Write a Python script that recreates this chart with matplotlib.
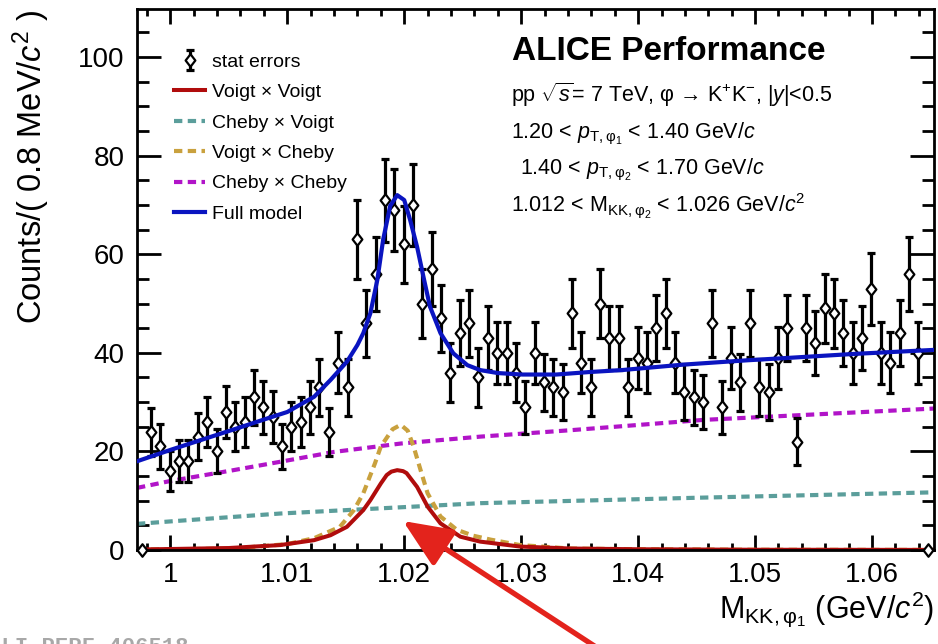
import numpy as np
import matplotlib
matplotlib.use("Agg")
import matplotlib.pyplot as plt
from matplotlib.lines import Line2D
from matplotlib.path import Path
from matplotlib.ticker import FixedLocator, MultipleLocator

# ---------------- data ----------------
bin_start = 0.99755          # centre of first bin (GeV/c^2)
bin_width = 0.0008           # 0.8 MeV/c^2
counts = [0,
          24, 21, 16, 18, 18, 23, 26, 20, 28, 25,
          26, 31, 29, 27, 21, 25, 26, 29, 33, 24,
          38, 33, 63, 46, 56, 71, 69, 62, 70, 50,
          57, 47, 36, 44, 46, 35, 43, 40, 40, 36,
          29, 40, 34, 33, 32, 48, 38, 33, 50, 43,
          43, 33, 39, 38, 45, 48, 38, 32, 31, 30,
          46, 29, 39, 34, 46, 33, 32, 39, 45, 22,
          45, 42, 49, 48, 44, 40, 43, 53, 40, 38,
          44, 56, 40, 0]

full_x = [0.99715, 1.0000, 1.0026, 1.0056, 1.0083, 1.0100, 1.0123, 1.0137, 1.0151,
          1.0160, 1.0165, 1.0171, 1.0177, 1.0182, 1.0188, 1.0194, 1.0200, 1.0205,
          1.0211, 1.0217, 1.0222, 1.0231, 1.0242, 1.0254, 1.0265, 1.0280, 1.0301,
          1.0330, 1.0358, 1.0386, 1.0438, 1.0494, 1.0523, 1.0586, 1.0653]
full_y = [18.0, 20.3, 22.3, 24.6, 26.7, 28.0, 31.1, 34.5, 38.2,
          41.6, 44.0, 48.0, 54.8, 63.0, 69.8, 72.0, 71.0, 67.0,
          61.5, 54.8, 49.4, 44.0, 39.9, 37.5, 36.5, 35.9, 35.6,
          35.6, 36.1, 36.5, 37.6, 38.5, 38.9, 39.8, 40.6]

vv_x = [0.99715, 1.0000, 1.0050, 1.0094, 1.0123, 1.0137, 1.0151, 1.0165, 1.0171,
        1.0180, 1.0185, 1.0189, 1.0194, 1.0199, 1.0202, 1.0211, 1.0220, 1.0231,
        1.0248, 1.0265, 1.0299, 1.0342, 1.0400, 1.0500, 1.0653]
vv_y = [0.1, 0.2, 0.4, 1.0, 2.0, 3.0, 4.7, 8.1, 10.1,
        13.5, 15.2, 15.9, 16.2, 16.0, 15.6, 12.8, 8.8, 5.4,
        2.7, 1.7, 0.7, 0.3, 0.15, 0.05, 0.02]

vc_x = [0.99715, 1.0000, 1.0054, 1.0100, 1.0123, 1.0145, 1.0157, 1.0165, 1.0175,
        1.0180, 1.0190, 1.0197, 1.0203, 1.0208, 1.0214, 1.0220, 1.0231, 1.0245,
        1.0259, 1.0274, 1.0299, 1.0342, 1.0400, 1.0500, 1.0653]
vc_y = [0.1, 0.15, 0.3, 1.2, 2.4, 4.7, 8.1, 11.5, 17.6,
        21.0, 24.5, 25.4, 24.2, 21.0, 16.2, 11.5, 6.8, 4.1,
        2.9, 2.1, 1.0, 0.3, 0.15, 0.05, 0.02]

cv_x = [0.99715, 1.0000, 1.0094, 1.0265, 1.0450, 1.0653]
cv_y = [5.3, 5.8, 7.4, 9.5, 10.6, 11.7]

cc_x = [0.99715, 1.0000, 1.0054, 1.0094, 1.0140, 1.0197, 1.0265, 1.0342, 1.0456, 1.0542, 1.0653]
cc_y = [12.6, 14.0, 16.2, 17.9, 19.9, 21.6, 23.0, 24.3, 26.4, 27.4, 28.7]

xticks = [1.00, 1.01, 1.02, 1.03, 1.04, 1.05, 1.06]
xtick_labels = ["1", "1.01", "1.02", "1.03", "1.04", "1.05", "1.06"]
yticks = [0, 20, 40, 60, 80, 100]

# ---------------- style ----------------
plt.rcParams['font.family'] = ['Liberation Sans', 'DejaVu Sans']
plt.rcParams['mathtext.fontset'] = 'custom'
plt.rcParams['mathtext.rm'] = 'Liberation Sans'
plt.rcParams['mathtext.it'] = 'Liberation Sans:italic'
plt.rcParams['mathtext.bf'] = 'Liberation Sans:bold'
plt.rcParams['mathtext.sf'] = 'Liberation Sans'

W, H = 938, 644
fig = plt.figure(figsize=(W / 100, H / 100), dpi=100)
fig.patch.set_facecolor('white')

def fx(px):
    return px / W

def fy(py):
    return 1 - py / H

ax_l, ax_r, ax_t, ax_b = 137, 934, 9.3, 550
ax = fig.add_axes([fx(ax_l), fy(ax_b), fx(ax_r) - fx(ax_l), (ax_b - ax_t) / H])

xc = bin_start + bin_width * np.arange(len(counts))
cnt = np.array(counts, dtype=float)
err = np.sqrt(cnt)

diamond = Path([(0, 1), (0.78, 0), (0, -1), (-0.78, 0), (0, 1)],
               [Path.MOVETO, Path.LINETO, Path.LINETO, Path.LINETO, Path.CLOSEPOLY])

eb = ax.errorbar(xc, cnt, yerr=err, fmt='none', ecolor='black', elinewidth=2.3,
                 capsize=3.0, capthick=2.3, zorder=3, clip_on=False)
ax.plot(xc, cnt, linestyle='none', marker=diamond, markersize=9.0,
        markerfacecolor='white', markeredgecolor='black', markeredgewidth=1.6,
        zorder=4, clip_on=False)

c_red = '#b00c0c'
c_teal = '#5b9e9b'
c_gold = '#c9a13e'
c_mag = '#b114c8'
c_blue = '#0a14c0'
dots = (0, (2.0, 1.3))

ax.plot(cv_x, cv_y, color=c_teal, lw=3.0, linestyle=dots, zorder=2)
ax.plot(cc_x, cc_y, color=c_mag, lw=3.0, linestyle=dots, zorder=2)
ax.plot(vc_x, vc_y, color=c_gold, lw=3.0, linestyle=dots, zorder=2)
ax.plot(vv_x, vv_y, color=c_red, lw=2.9, zorder=2.5, solid_joinstyle='round')
ax.plot(full_x, full_y, color=c_blue, lw=3.0, zorder=5, solid_joinstyle='round')

ax.set_xlim(0.99715, 1.0653)
ax.set_ylim(0, 109.7)

ax.xaxis.set_major_locator(FixedLocator(xticks))
ax.set_xticklabels(xtick_labels)
ax.xaxis.set_minor_locator(MultipleLocator(0.002))
ax.yaxis.set_major_locator(FixedLocator(yticks))
ax.yaxis.set_minor_locator(MultipleLocator(5))

for s in ax.spines.values():
    s.set_linewidth(2.0)
ax.tick_params(axis='both', which='both', direction='in', top=True, right=True,
               width=2.0, labelsize=20)
ax.tick_params(axis='x', which='major', length=11, pad=9)
ax.tick_params(axis='x', which='minor', length=5)
ax.tick_params(axis='y', which='major', length=17.5, pad=9)
ax.tick_params(axis='y', which='minor', length=8.5)

ax.set_ylabel(r'Counts/( 0.8 MeV/$c^{2}$ )', fontsize=23.5, loc='top', labelpad=19)
ax.set_xlabel(r'M$_{\mathrm{KK},\mathrm{φ}_{1}}$ (GeV/$c^{2}$)', fontsize=22, loc='right',
              labelpad=1)

# legend
h_stat = Line2D([], [], linestyle='none', marker=diamond, markersize=9.0,
                markerfacecolor='white', markeredgecolor='black', markeredgewidth=1.6)
handles = [(eb, h_stat),
           Line2D([], [], color=c_red, lw=2.9),
           Line2D([], [], color=c_teal, lw=3.0, linestyle=dots),
           Line2D([], [], color=c_gold, lw=3.0, linestyle=dots),
           Line2D([], [], color=c_mag, lw=3.0, linestyle=dots),
           Line2D([], [], color=c_blue, lw=3.0)]
labels = ['stat errors', 'Voigt × Voigt', 'Cheby × Voigt', 'Voigt × Cheby',
          'Cheby × Cheby', 'Full model']
leg = ax.legend(handles, labels, loc='upper left', bbox_to_anchor=(fx(174), fy(53)),
                bbox_transform=fig.transFigure, frameon=False, fontsize=14,
                handlelength=1.6, handletextpad=0.35, labelspacing=0.66,
                borderpad=0, borderaxespad=0)

# annotation text
fig.text(fx(512), fy(60), 'ALICE Performance', fontsize=24, fontweight='bold',
         ha='left', va='baseline')
fig.text(fx(511), fy(102), r'pp $\sqrt{s}$= 7 TeV, φ → K$^{+}$K$^{-}$, |$y$|<0.5',
         fontsize=15.5, ha='left', va='baseline')
fig.text(fx(511), fy(138), r'1.20 < $p_{\mathrm{T},\mathrm{φ}_{1}}$ < 1.40 GeV/$c$',
         fontsize=15.5, ha='left', va='baseline')
fig.text(fx(520), fy(174), r'1.40 < $p_{\mathrm{T},\mathrm{φ}_{2}}$ < 1.70 GeV/$c$',
         fontsize=15.5, ha='left', va='baseline')
fig.text(fx(511), fy(211), r'1.012 < M$_{\mathrm{KK},\mathrm{φ}_{2}}$ < 1.026 GeV/$c^{2}$',
         fontsize=15.5, ha='left', va='baseline')

# red arrow
ax.annotate('', xy=(fx(403), fy(521)), xycoords='figure fraction',
            xytext=(fx(622), fy(664)), textcoords='figure fraction',
            arrowprops=dict(arrowstyle='-|>,head_length=3.0,head_width=1.3',
                            mutation_scale=10, lw=3.8, color='#e3231c',
                            shrinkA=0, shrinkB=0),
            annotation_clip=False, zorder=10)

# footer id
fig.text(fx(-12), fy(637), 'ALI-PERF-406518', fontsize=16, fontweight='bold',
         family=['Liberation Mono', 'DejaVu Sans Mono'], color='#a8a8a8',
         ha='left', va='top')

fig.savefig('out.png', dpi=100)
